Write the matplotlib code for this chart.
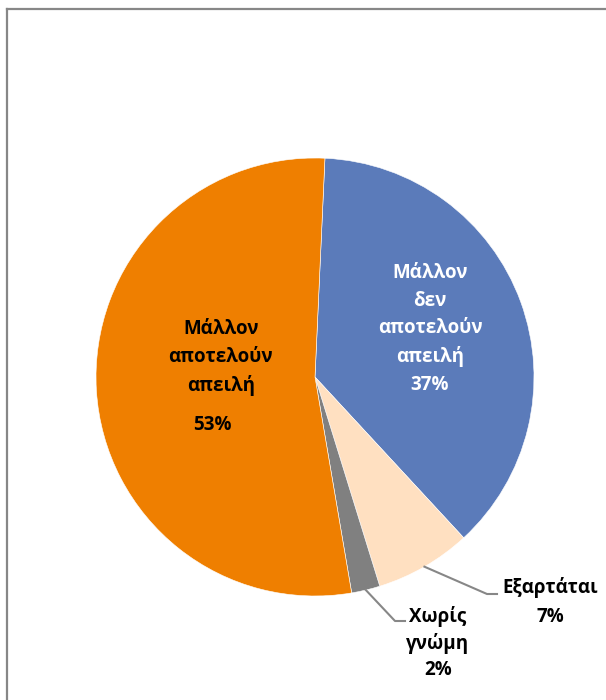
import matplotlib
matplotlib.use("Agg")
import matplotlib.pyplot as plt
import numpy as np
from matplotlib.lines import Line2D

# ---- data ----
categories = ["Μάλλον δεν\nαποτελούν απειλή", "Εξαρτάται", "Χωρίς γνώμη", "Μάλλον αποτελούν απειλή"]
values = [37.4, 7.1, 2.1, 53.4]
pct_labels = ["37%", "7%", "2%", "53%"]
colors = ["#5B7BBA", "#FFE0C1", "#808080", "#EF7F00"]

plt.rcParams['font.family'] = ['Open Sans', 'DejaVu Sans']

W, H = 606, 700
fig = plt.figure(figsize=(W / 100, H / 100), dpi=100)
ax = fig.add_axes([0, 0, 1, 1])

cx, cy, R = 315, 323, 219
wedges, _ = ax.pie(values, colors=colors, startangle=87.4, counterclock=False,
                   center=(cx, cy), radius=R,
                   wedgeprops=dict(edgecolor="white", linewidth=0.4))
ax.set_xlim(0, W)
ax.set_ylim(0, H)
ax.set_aspect("equal")
ax.axis("off")

fs = 13.5
# inside labels
ax.text(cx - 0.43 * R, cy + 0.09 * R, "Μάλλον\nαποτελούν\nαπειλή", ha="center", va="center",
        fontsize=fs, fontweight="bold", color="black", linespacing=1.5)
ax.text(cx - 0.47 * R, cy - 0.22 * R, pct_labels[3], ha="center", va="center",
        fontsize=fs, fontweight="bold", color="black")
ax.text(cx + 0.525 * R, cy + 0.22 * R, "Μάλλον\nδεν\nαποτελούν\nαπειλή\n" + pct_labels[0],
        ha="center", va="center", fontsize=fs, fontweight="bold", color="white", linespacing=1.5)

# outside labels with leader lines
def edge_point(w, frac=1.0):
    a = np.deg2rad((w.theta1 + w.theta2) / 2)
    return cx + frac * R * np.cos(a), cy + frac * R * np.sin(a)

lc = "#878787"
x0, y0 = edge_point(wedges[1])
ax.plot([x0, 487, 497], [y0, 106, 106], color=lc, lw=1.5)
ax.text(550, 98, categories[1] + "\n" + pct_labels[1], ha="center", va="center",
        fontsize=fs, fontweight="bold", color="black", linespacing=1.6)

x0, y0 = edge_point(wedges[2])
ax.plot([x0, 395, 405], [y0, 79, 79], color=lc, lw=1.5)
ax.text(438, 57, "Χωρίς\nγνώμη\n" + pct_labels[2], ha="center", va="center",
        fontsize=fs, fontweight="bold", color="black", linespacing=1.4)

# chart frame (partially visible)
bc = "#878787"
fig.add_artist(Line2D([7 / W, 7 / W], [0, 1 - 9 / H], color=bc, lw=1.6, transform=fig.transFigure))
fig.add_artist(Line2D([7 / W, 1], [1 - 9 / H, 1 - 9 / H], color=bc, lw=1.6, transform=fig.transFigure))

fig.savefig("out.png", dpi=100)
